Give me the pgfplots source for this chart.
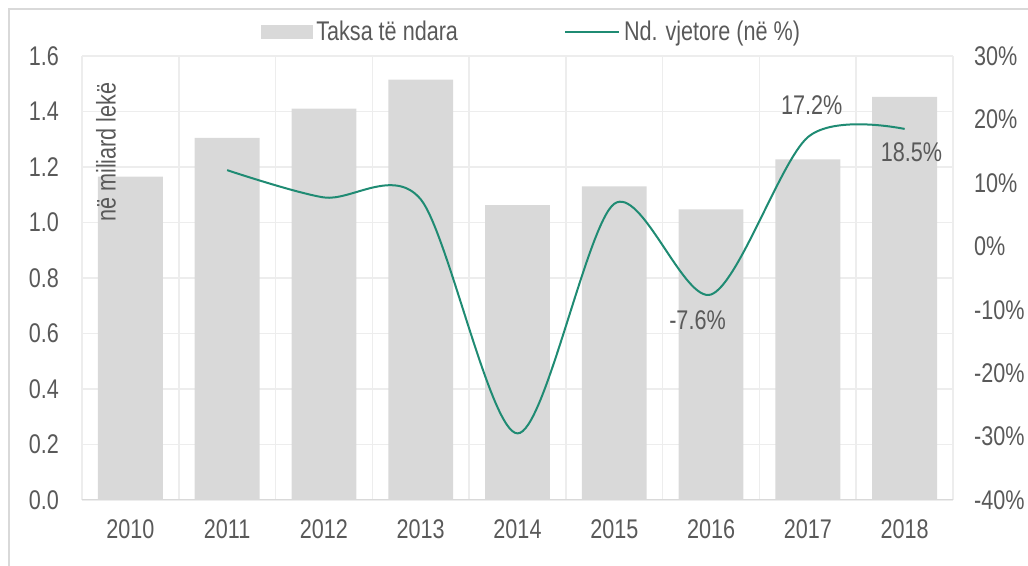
\documentclass[border=0pt]{standalone}
\usepackage{fontspec}
\setmainfont[FakeStretch=0.8]{Liberation Sans}
\usepackage{pgfplots}
\pgfplotsset{compat=1.18}
\definecolor{bargray}{HTML}{D9D9D9}
\definecolor{gridgray}{HTML}{EDEDED}
\definecolor{framegray}{HTML}{D9D9D9}
\definecolor{linecol}{HTML}{1F8B73}
\definecolor{txt}{HTML}{595959}
\pgfplotsset{/pgf/number format/assume math mode=true}
\begin{document}
\begin{tikzpicture}[font=\fontsize{13.5pt}{16pt}\selectfont]
\begin{axis}[name=ax,
 scale only axis, width=435.5pt, height=222pt,
 ybar, bar width=0.67,
 xmin=-0.5, xmax=8.5, ymin=0, ymax=1.6,
 xtick={0,1,2,3,4,5,6,7,8},
 xticklabels={2010,2011,2012,2013,2014,2015,2016,2017,2018},
 minor xtick={-0.5,0.5,1.5,2.5,3.5,4.5,5.5,6.5,7.5,8.5},
 ytick={0,0.2,0.4,0.6,0.8,1.0,1.2,1.4,1.6},
 ymajorgrids, xminorgrids,
 major grid style={gridgray, line width=0.8pt},
 minor grid style={gridgray, line width=0.8pt},
 axis line style={draw=none},
 major tick length=0pt, minor tick length=0pt,
 tick label style={text=txt},
 yticklabel style={/pgf/number format/.cd, fixed, fixed zerofill, precision=1, /tikz/.cd, xshift=-8pt},
 xticklabel style={yshift=-6.5pt},
 ]
 \addplot[fill=bargray, draw=none] coordinates {(0,1.165) (1,1.305) (2,1.41) (3,1.515) (4,1.063) (5,1.13) (6,1.047) (7,1.227) (8,1.453)};
 \draw[bargray, line width=1.2pt] (rel axis cs:0,0) -- (rel axis cs:1,0);
 \node[rotate=90, anchor=east, inner sep=0pt, text=txt] at (rel axis cs:0.0276,0.9414) {në miliard lekë};
\end{axis}
\begin{axis}[
 scale only axis, width=435.5pt, height=222pt, at={(ax.south west)}, anchor=south west,
 xmin=-0.5, xmax=8.5, ymin=-40, ymax=30,
 axis y line*=right, axis x line=none,
 ytick={-40,-30,-20,-10,0,10,20,30},
 yticklabel={\pgfmathprintnumber{\tick}\%},
 axis line style={draw=none}, major tick length=0pt,
 tick label style={text=txt},
 yticklabel style={xshift=7pt},
 legend style={at={(0.517,1)}, anchor=south, yshift=2pt, draw=none, fill=none, legend columns=2, text=txt,
   /tikz/every even column/.append style={column sep=51pt}},
]
 \addlegendimage{legend image code/.code={\fill[bargray] (0pt,-3.25pt) rectangle (25.5pt,3.25pt);}}
 \addlegendentry{Taksa të ndara}
 \addplot[linecol, line width=1pt, smooth, tension=0.5, mark=none,
   legend image code/.code={\draw[linecol, line width=1pt] (0pt,0pt) -- (27pt,0pt);}]
   coordinates {(1,12.0) (2,7.7) (3,7.4) (4,-29.5) (5,6.7) (6,-7.6) (7,17.2) (8,18.5)};
 \addlegendentry{Nd. vjetore (në \%)}
 \node[text=txt] at (axis cs:7.04,22.3) {17.2\%};
 \node[text=txt] at (axis cs:8.07,14.9) {18.5\%};
 \node[text=txt] at (axis cs:5.86,-11.6) {-7.6\%};
\end{axis}
\pgfresetboundingbox
\path[use as bounding box] ([shift={(-41pt,-33pt)}]ax.south west) rectangle ++(514pt,283pt);
\draw[framegray, line width=1pt] ([shift={(-36.5pt,-40pt)}]ax.south west) -- ([shift={(-36.5pt,245.5pt)}]ax.south west) -- ([shift={(480pt,245.5pt)}]ax.south west);
\end{tikzpicture}
\end{document}
